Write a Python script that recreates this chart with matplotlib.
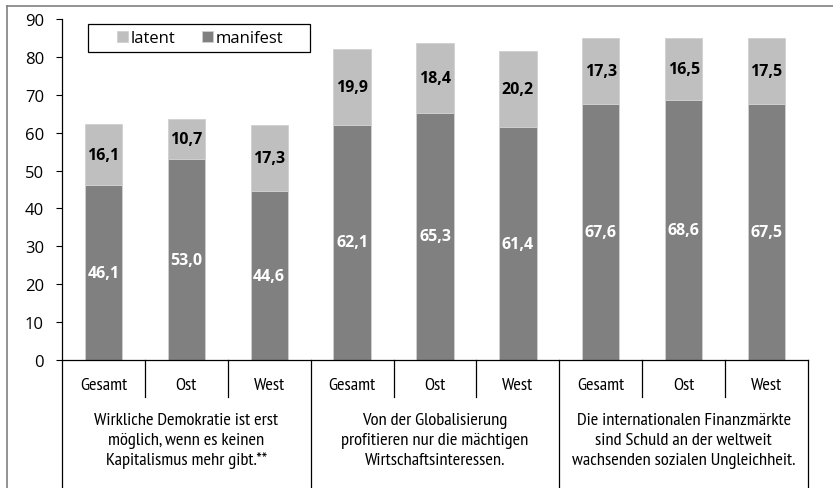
import matplotlib
matplotlib.use("Agg")
import matplotlib.pyplot as plt
import matplotlib.transforms as mtransforms
from matplotlib.lines import Line2D
from matplotlib.patches import Rectangle
import numpy as np

# ---------------------------------------------------------------------------
# Data
# ---------------------------------------------------------------------------
subgroups = ["Gesamt", "Ost", "West"] * 3
statements = [
    "Wirkliche Demokratie ist erst\nmöglich, wenn es keinen\nKapitalismus mehr gibt.**",
    "Von der Globalisierung\nprofitieren nur die mächtigen\nWirtschaftsinteressen.",
    "Die internationalen Finanzmärkte\nsind Schuld an der weltweit\nwachsenden sozialen Ungleichheit.",
]
manifest = [46.1, 53.0, 44.6, 62.1, 65.3, 61.4, 67.6, 68.6, 67.5]
latent = [16.1, 10.7, 17.3, 19.9, 18.4, 20.2, 17.3, 16.5, 17.5]
yticks = [0, 10, 20, 30, 40, 50, 60, 70, 80, 90]

C_LATENT = "#bfbfbf"
C_MANIFEST = "#808080"
NUM_FONT = ["Open Sans", "DejaVu Sans"]
NARROW_FONT = ["PT Sans Narrow", "IBM Plex Sans Condensed", "DejaVu Sans"]

W, H = 833, 489
AX_L, AX_B, AX_W, AX_H = 62, 128, 746, 341   # pixels


def fmt(v):
    return f"{v:.1f}".replace(".", ",")


def ax_x(px):
    return (px - AX_L) / AX_W


def ax_y(py):
    # py measured from the top of the figure
    return (H - AX_B - py) / AX_H


fig = plt.figure(figsize=(W / 100, H / 100), dpi=100)
ax = fig.add_axes([AX_L / W, AX_B / H, AX_W / W, AX_H / H])

x = np.arange(len(subgroups))
bars_m = ax.bar(x, manifest, width=0.45, color=C_MANIFEST,
                edgecolor="#d0d0d0", linewidth=0.6, label="manifest")
bars_l = ax.bar(x, latent, width=0.45, bottom=manifest, color=C_LATENT,
                edgecolor="#d0d0d0", linewidth=0.6, label="latent")

for xi, m, l in zip(x, manifest, latent):
    ax.text(xi, m / 2, fmt(m), ha="center", va="center", color="white",
            fontsize=11.5, fontweight="bold", family=NUM_FONT)
    ax.text(xi, m + l / 2, fmt(l), ha="center", va="center", color="black",
            fontsize=11.5, fontweight="bold", family=NUM_FONT)

ax.set_xlim(-0.5, len(subgroups) - 0.5)
ax.set_ylim(0, 90)
ax.set_yticks(yticks)
ax.set_yticklabels([str(t) for t in yticks], family=NUM_FONT, fontsize=12)
ax.tick_params(axis="y", length=4, width=0.8, pad=9, direction="out")
ax.set_xticks([])
for s in ["top", "right"]:
    ax.spines[s].set_visible(False)
ax.spines["left"].set_linewidth(0.9)
ax.spines["bottom"].set_linewidth(0.9)

# ---- two-level category axis ----------------------------------------------
trans = mtransforms.blended_transform_factory(ax.transData, ax.transAxes)
for b in range(len(subgroups) + 1):
    xb = b - 0.5
    bottom = ax_y(H) if b % 3 == 0 else ax_y(398)
    ax.plot([xb, xb], [0, bottom], color="black", lw=0.9,
            transform=trans, clip_on=False)

for xi, name in zip(x, subgroups):
    ax.text(xi, ax_y(386), name, ha="center", va="center", fontsize=13.3,
            family=NARROW_FONT, transform=trans)

for gi, label in enumerate(statements):
    ax.text(gi * 3 + 1, ax_y(441), label, ha="center", va="center",
            fontsize=13.3, family=NARROW_FONT, linespacing=1.32,
            transform=trans)

# ---- legend (box drawn separately) ----------------------------------------
ax.add_patch(Rectangle((ax_x(88), ax_y(53)), 222 / AX_W, 28 / AX_H,
                       transform=ax.transAxes, facecolor="white",
                       edgecolor="black", linewidth=0.9, zorder=4,
                       clip_on=False))
leg = ax.legend(handles=[bars_l, bars_m], loc="center left",
                bbox_to_anchor=(ax_x(117), ax_y(39)), ncol=2, frameon=False,
                handlelength=0.66, handleheight=0.66, handletextpad=0.15,
                columnspacing=1.6, borderpad=0, borderaxespad=0,
                prop={"family": NUM_FONT, "size": 12})
leg.set_zorder(5)

# ---- outer frame ----------------------------------------------------------
fig.add_artist(Line2D([7 / W, 7 / W], [0, 1 - 7 / H],
                      color="#808080", lw=1.2))
fig.add_artist(Line2D([7 / W, 1], [1 - 7 / H, 1 - 7 / H],
                      color="#808080", lw=1.2))

fig.savefig("out.png", dpi=100)
